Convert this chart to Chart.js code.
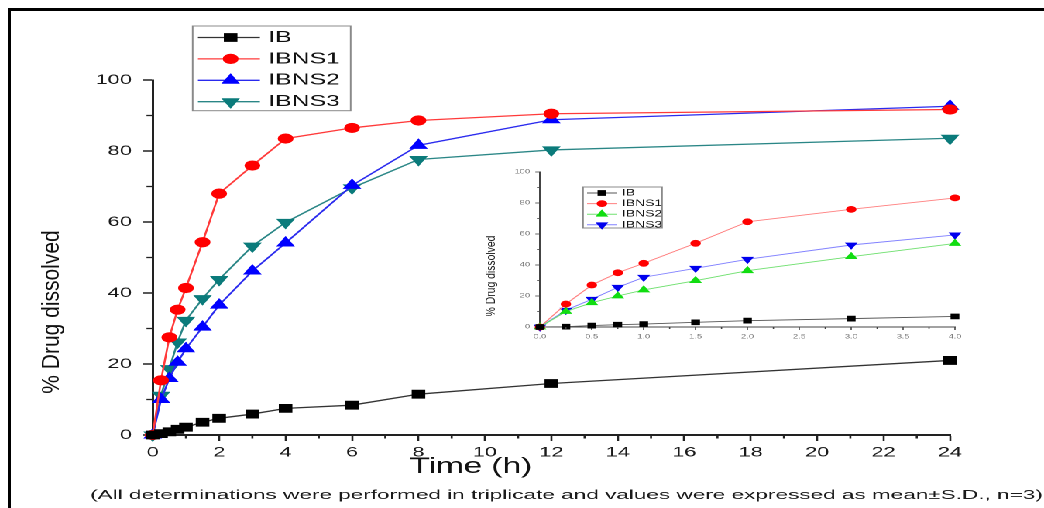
<!DOCTYPE html>
<html><head><meta charset="utf-8">
<script src="https://cdn.jsdelivr.net/npm/chart.js@4.4.1/dist/chart.umd.min.js"></script>
<style>
html,body{margin:0;padding:0;background:#fff;overflow:hidden;}
#page{position:relative;width:1044px;height:508px;overflow:hidden;background:#fff;}
#stretch{position:absolute;left:0;top:0;width:674px;height:508px;transform:scaleX(1.549);transform-origin:0 0;}
#mainWrap{position:absolute;left:0;top:0;width:674px;height:508px;}
#insetWrap{position:absolute;left:290px;top:150px;width:340px;height:200px;}
#frame{position:absolute;left:7.5px;top:7.5px;width:1100px;height:600px;border-top:3px solid #000;border-left:3px solid #000;}
</style></head><body>
<div id="page">
  <div id="stretch">
    <div id="mainWrap"><canvas id="main"></canvas></div>
    <div id="insetWrap"><canvas id="inset"></canvas></div>
  </div>
  <div id="frame"></div>
</div>
<script>
// ---------- data (main chart) ----------
const seriesNames = ['IB', 'IBNS1', 'IBNS2', 'IBNS3'];
const mainTime  = [0, 0.25, 0.5, 0.75, 1, 1.5, 2, 3, 4, 6, 8, 12, 24];
const mainIB    = [0, 0.4, 0.9, 1.6, 2.2, 3.6, 4.7, 5.9, 7.5, 8.4, 11.5, 14.5, 21.0];
const mainIBNS1 = [0, 15.4, 27.5, 35.3, 41.4, 54.3, 68.0, 75.9, 83.5, 86.5, 88.6, 90.5, 91.7];
const mainIBNS2 = [0, 10.0, 15.9, 20.5, 24.3, 30.4, 36.6, 46.2, 54.1, 70.3, 81.6, 88.8, 92.6];
const mainIBNS3 = [0, 11.2, 18.7, 26.2, 32.3, 38.4, 43.8, 53.2, 59.9, 69.6, 77.6, 80.3, 83.6];
const mainXTicksStep = 2;    // 0,2,...,24
const mainYTicksStep = 20;   // 0,20,...,100
// ---------- data (inset chart) ----------
const insetTime  = [0, 0.25, 0.5, 0.75, 1, 1.5, 2, 3, 4];
const insetIB    = [0, 0.2, 0.9, 1.5, 1.9, 3.0, 4.1, 5.4, 6.8];
const insetIBNS1 = [0, 14.8, 27.1, 35.0, 41.1, 54.0, 67.9, 75.9, 83.3];
const insetIBNS2 = [0, 10.0, 15.7, 20.0, 23.9, 29.9, 36.3, 45.4, 53.9];
const insetIBNS3 = [0, 10.8, 17.9, 25.6, 32.1, 37.9, 43.7, 52.9, 59.4];
const insetXTicksStep = 0.5; // 0.0 ... 4.0
const insetYTicksStep = 20;
// ---------- texts ----------
const yTitle = '% Drug dissolved';
const xTitle = 'Time (h)';
const caption = '(All determinations were performed in triplicate and values were expressed as mean\u00b1S.D., n=3)';

Chart.defaults.font.family = "'Liberation Sans', Arial, sans-serif";
const FONT = "'Liberation Sans', Arial, sans-serif";

function pts(xs, ys) { return xs.map((x, i) => ({ x: x, y: ys[i] })); }

function marker(ctx, style, rot, r, x, y) {
  ctx.beginPath();
  if (style === 'circle') {
    ctx.arc(x, y, r, 0, Math.PI * 2);
  } else if (style === 'rect') {
    const s = Math.SQRT1_2 * r;
    ctx.rect(x - s, y - s, 2 * s, 2 * s);
  } else {
    let rad = (rot || 0) * Math.PI / 180;
    ctx.moveTo(x + Math.sin(rad) * r, y - Math.cos(rad) * r);
    rad += 2 * Math.PI / 3;
    ctx.lineTo(x + Math.sin(rad) * r, y - Math.cos(rad) * r);
    rad += 2 * Math.PI / 3;
    ctx.lineTo(x + Math.sin(rad) * r, y - Math.cos(rad) * r);
    ctx.closePath();
  }
  ctx.fill();
  ctx.stroke();
}

function fitText(ctx, text, cx, cy, font, width, color) {
  ctx.save();
  ctx.font = font; ctx.fillStyle = color;
  ctx.textAlign = 'center'; ctx.textBaseline = 'middle';
  const w = ctx.measureText(text).width;
  const s = width ? width / w : 1;
  ctx.translate(cx, cy); ctx.scale(s, 1);
  ctx.fillText(text, 0, 0);
  ctx.restore();
}

function vText(ctx, text, cx, cy, font, squash, color) {
  ctx.save();
  ctx.font = font; ctx.fillStyle = color;
  ctx.textAlign = 'center'; ctx.textBaseline = 'middle';
  ctx.translate(cx, cy); ctx.rotate(-Math.PI / 2); ctx.scale(1, squash);
  ctx.fillText(text, 0, 0);
  ctx.restore();
}

function drawLegend(chart, box, lx0, lx1, mx, tx, y0, dy, font, lineW) {
  const ctx = chart.ctx;
  ctx.save();
  ctx.strokeStyle = '#8a8a8a'; ctx.lineWidth = 1;
  ctx.strokeRect(box[0], box[1], box[2] - box[0], box[3] - box[1]);
  chart.data.datasets.forEach((ds, i) => {
    const y = y0 + i * dy;
    ctx.strokeStyle = ds.borderColor; ctx.lineWidth = lineW;
    ctx.beginPath(); ctx.moveTo(lx0, y); ctx.lineTo(lx1, y); ctx.stroke();
    ctx.fillStyle = ds.pointBackgroundColor; ctx.strokeStyle = ds.pointBorderColor; ctx.lineWidth = 1;
    marker(ctx, ds.pointStyle, ds.pointRotation, ds.pointRadius, mx, y);
    ctx.fillStyle = '#111'; ctx.font = font; ctx.textAlign = 'left'; ctx.textBaseline = 'middle';
    ctx.fillText(ds.label, tx, y);
  });
  ctx.restore();
}

function minorTicks(chart, xs, ys, xLen, yLen, color, lw) {
  const { ctx, chartArea: a, scales } = chart;
  ctx.save(); ctx.strokeStyle = color; ctx.lineWidth = lw;
  xs.forEach(v => { const p = scales.x.getPixelForValue(v); ctx.beginPath(); ctx.moveTo(p, a.bottom); ctx.lineTo(p, a.bottom + xLen); ctx.stroke(); });
  ys.forEach(v => { const p = scales.y.getPixelForValue(v); ctx.beginPath(); ctx.moveTo(a.left - yLen, p); ctx.lineTo(a.left, p); ctx.stroke(); });
  ctx.restore();
}

const mainMinorX = [1, 3, 5, 7, 9, 11, 13, 15, 17, 19, 21, 23];
const mainMinorY = [10, 30, 50, 70, 90];
const insetMinorX = [0.25, 0.75, 1.25, 1.75, 2.25, 2.75, 3.25, 3.75];
const insetMinorY = [10, 30, 50, 70, 90];

const mainExtras = {
  id: 'mainExtras',
  afterDraw(chart) {
    const ctx = chart.ctx;
    minorTicks(chart, mainMinorX, mainMinorY, 3.5, 4, '#222', 1.3);
    vText(ctx, yTitle, 33.6, 312, '21px ' + FONT, 0.75, '#111');
    fitText(ctx, xTitle, 304, 467, '22px ' + FONT, 79, '#111');
    fitText(ctx, caption, 365.7, 495.5, '13px ' + FONT, 615, '#1a1a1a');
    drawLegend(chart, [124.4, 26, 226.4, 110.7], 127.8, 167.8, 148.9, 173.2, 37.5, 21.4, '16px ' + FONT, 1.3);
  }
};

const insetExtras = {
  id: 'insetExtras',
  afterDraw(chart) {
    const ctx = chart.ctx;
    minorTicks(chart, insetMinorX, insetMinorY, 2, 2, '#444', 0.8);
    vText(ctx, yTitle, 27.5, 126, '10.4px ' + FONT, 0.75, '#222');
    drawLegend(chart, [86.4, 37, 137.4, 78], 89, 108, 98.6, 111.5, 43, 10.6, '9px ' + FONT, 1);
  }
};

function ds(label, data, line, fill, style, rot, r, lw) {
  return {
    label: label, data: data, borderColor: line, borderWidth: lw,
    backgroundColor: fill, pointBackgroundColor: fill, pointBorderColor: fill,
    pointBorderWidth: 1, pointStyle: style, pointRotation: rot, pointRadius: r,
    pointHoverRadius: r, tension: 0, clip: false, fill: false
  };
}

new Chart(document.getElementById('main'), {
  type: 'line',
  data: {
    datasets: [
      ds(seriesNames[0], pts(mainTime, mainIB), '#333333', '#000000', 'rect', 0, 5.5, 1.3),
      ds(seriesNames[1], pts(mainTime, mainIBNS1), '#ff3a3a', '#ff0000', 'circle', 0, 4.6, 1.3),
      ds(seriesNames[2], pts(mainTime, mainIBNS2), '#2a2aee', '#0000ff', 'triangle', 0, 6, 1.3),
      ds(seriesNames[3], pts(mainTime, mainIBNS3), '#2a8686', '#0b7b7b', 'triangle', 180, 6, 1.3)
    ]
  },
  options: {
    responsive: true, maintainAspectRatio: false, animation: false, devicePixelRatio: 2,
    layout: { padding: { left: 0, right: 60.7, top: 80, bottom: 43 } },
    plugins: { legend: { display: false }, tooltip: { enabled: false }, title: { display: false } },
    events: [],
    scales: {
      x: {
        type: 'linear', min: 0, max: 24,
        ticks: { stepSize: mainXTicksStep, autoSkip: false, maxRotation: 0, padding: 3, color: '#1a1a1a', font: { size: 14 } },
        grid: { display: true, drawOnChartArea: false, drawTicks: true, tickLength: 6, tickColor: '#222', tickWidth: 1.3 },
        border: { display: true, color: '#222', width: 2 },
        afterFit(s) { s.height = 30; }
      },
      y: {
        min: 0, max: 100,
        ticks: { stepSize: mainYTicksStep, padding: 7, color: '#1a1a1a', font: { size: 14 } },
        grid: { display: true, drawOnChartArea: false, drawTicks: true, tickLength: 6.5, tickColor: '#222', tickWidth: 1.5 },
        border: { display: true, color: '#222', width: 1.5 },
        afterFit(s) { s.width = 98.6; }
      }
    }
  },
  plugins: [mainExtras]
});

new Chart(document.getElementById('inset'), {
  type: 'line',
  data: {
    datasets: [
      ds(seriesNames[0], pts(insetTime, insetIB), '#555555', '#000000', 'rect', 0, 3.3, 0.9),
      ds(seriesNames[1], pts(insetTime, insetIBNS1), '#ff8080', '#ff0000', 'circle', 0, 2.9, 0.9),
      ds(seriesNames[2], pts(insetTime, insetIBNS2), '#70e070', '#11dd11', 'triangle', 0, 3.8, 0.9),
      ds(seriesNames[3], pts(insetTime, insetIBNS3), '#8080ff', '#0000ee', 'triangle', 180, 3.8, 0.9)
    ]
  },
  options: {
    responsive: true, maintainAspectRatio: false, animation: false, devicePixelRatio: 2,
    layout: { padding: { left: 0, right: 13.5, top: 22, bottom: 3 } },
    plugins: { legend: { display: false }, tooltip: { enabled: false }, title: { display: false } },
    events: [],
    scales: {
      x: {
        type: 'linear', min: 0, max: 4,
        ticks: { stepSize: insetXTicksStep, autoSkip: false, maxRotation: 0, padding: 3, color: '#777', font: { size: 6 },
                 callback: v => Number(v).toFixed(1) },
        grid: { display: true, drawOnChartArea: false, drawTicks: true, tickLength: 3, tickColor: '#444', tickWidth: 0.8 },
        border: { display: true, color: '#444', width: 1 },
        afterFit(s) { s.height = 20; }
      },
      y: {
        min: 0, max: 100,
        ticks: { stepSize: insetYTicksStep, padding: 3.4, color: '#777', font: { size: 6 } },
        grid: { display: true, drawOnChartArea: false, drawTicks: true, tickLength: 3, tickColor: '#444', tickWidth: 0.8 },
        border: { display: true, color: '#444', width: 1 },
        afterFit(s) { s.width = 58.6; }
      }
    }
  },
  plugins: [insetExtras]
});
</script>
</body></html>
